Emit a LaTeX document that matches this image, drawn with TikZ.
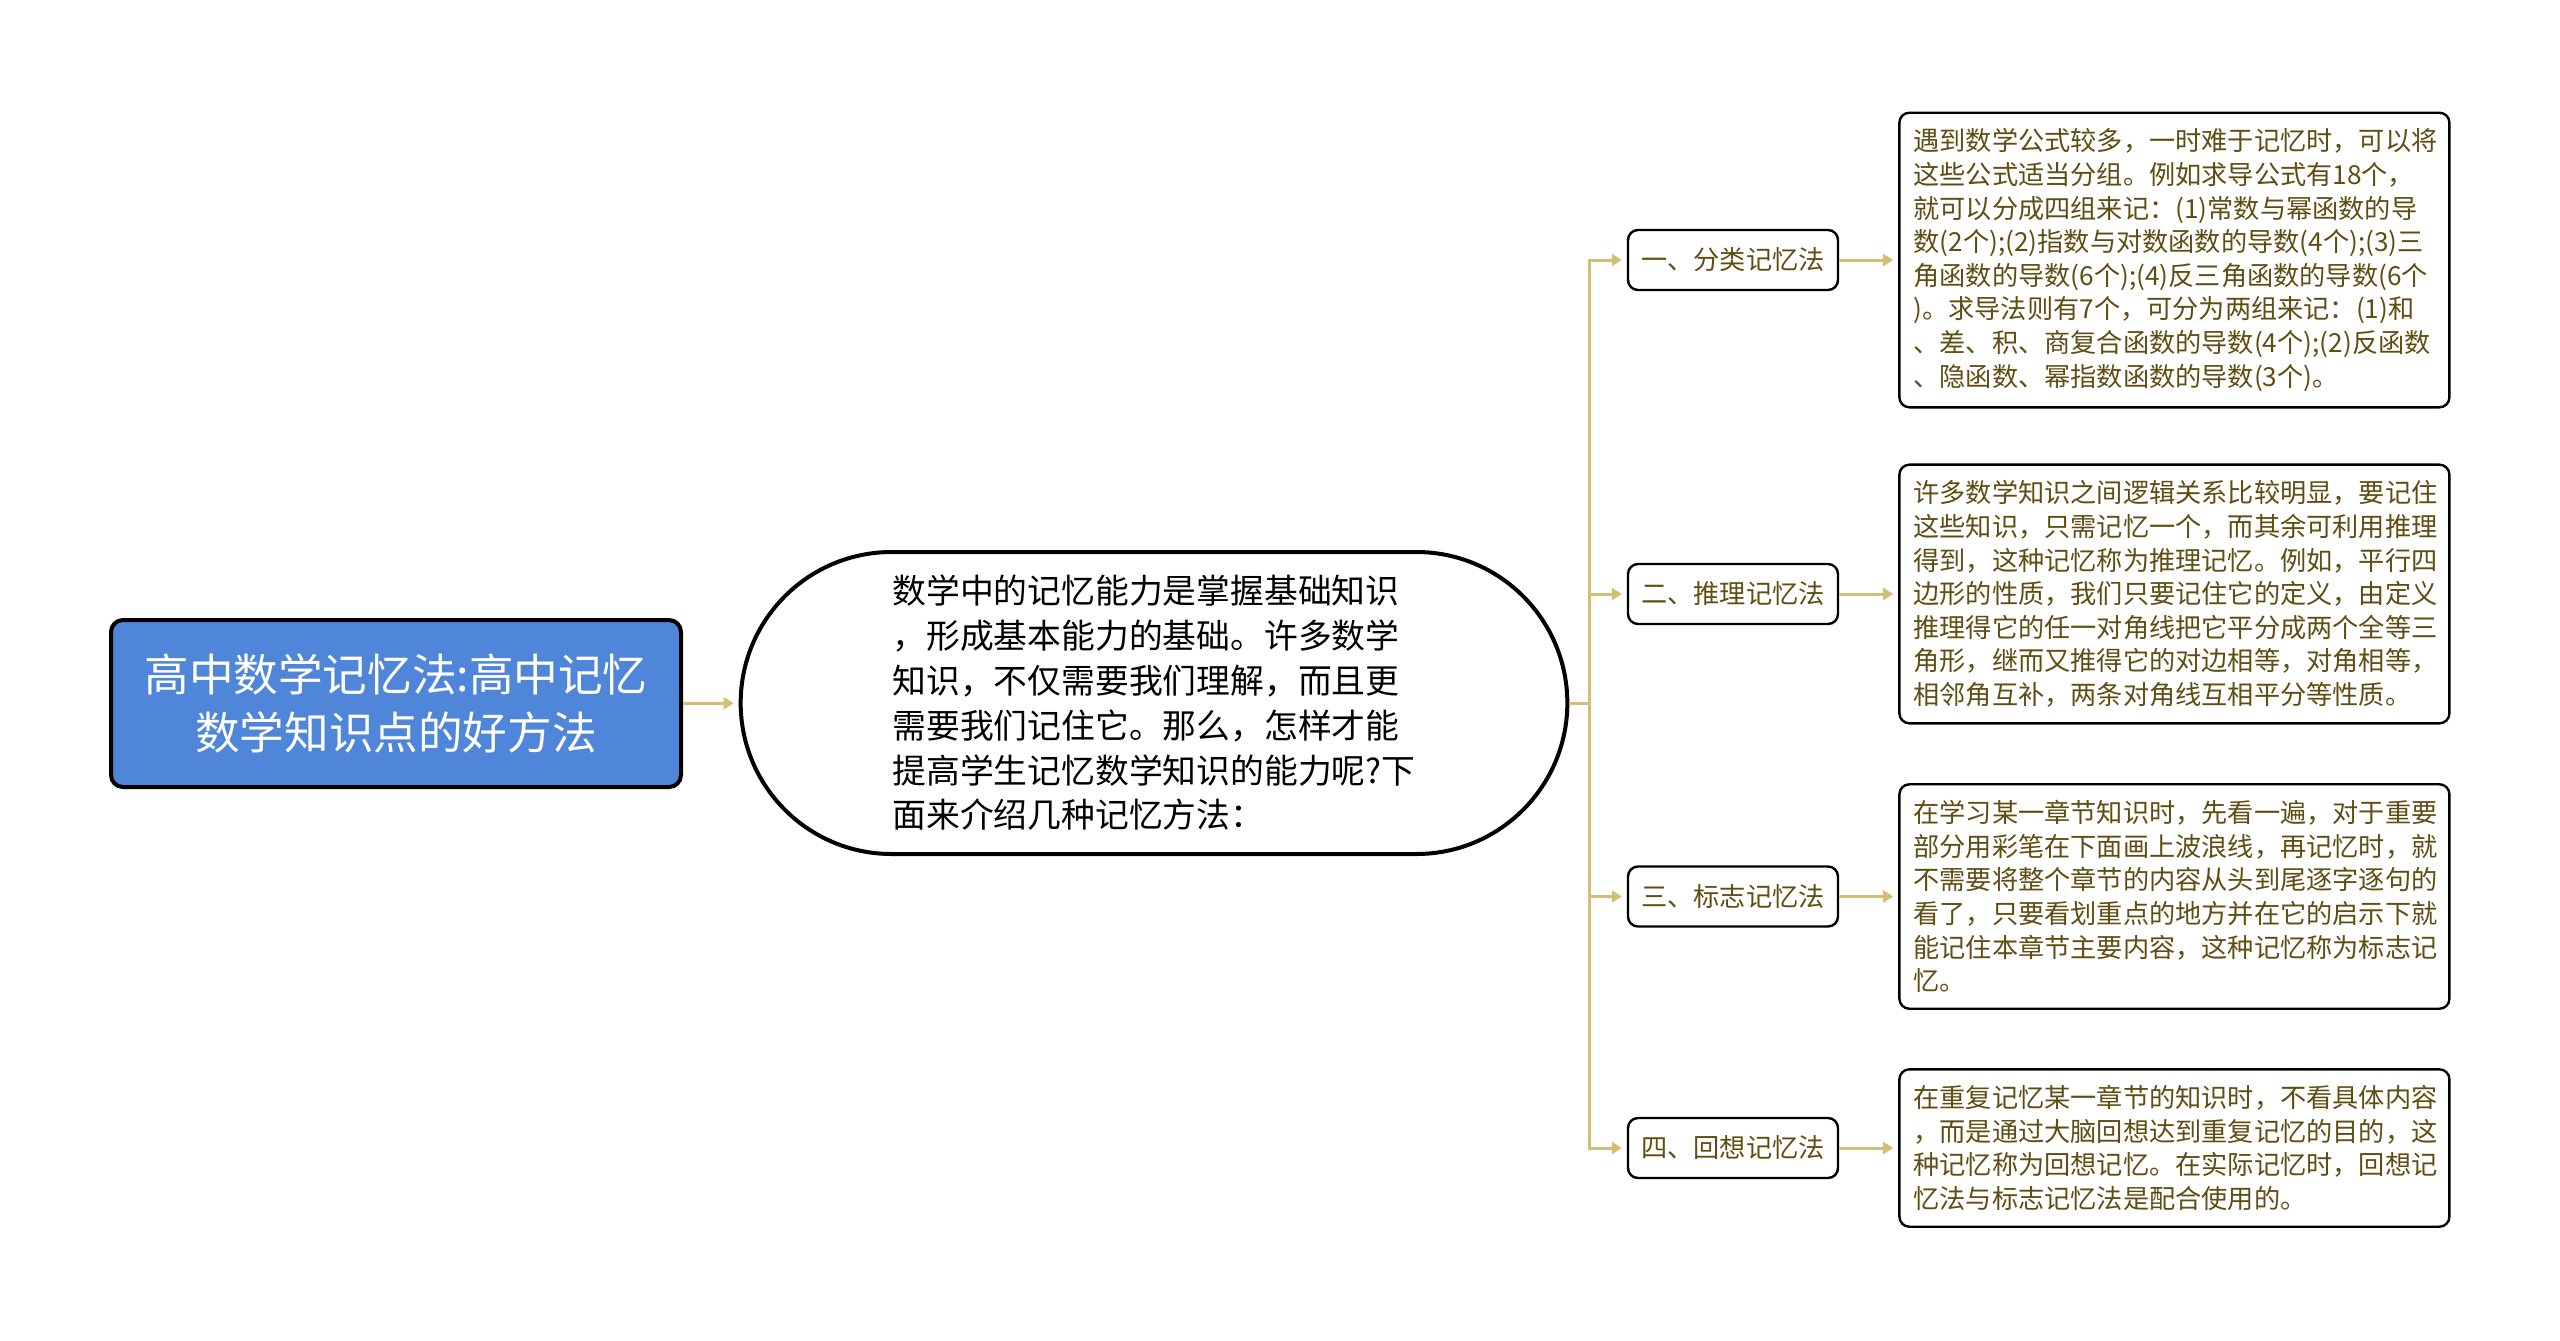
\documentclass[tikz,border=0pt]{standalone}
\usepackage{fontspec}
\setmainfont{Noto Sans CJK SC}
\usepackage{tikz}
\usetikzlibrary{arrows.meta,positioning,shapes.misc}
\definecolor{rootblue}{RGB}{79,134,217}
\definecolor{linktan}{RGB}{212,190,118}
\definecolor{leaftext}{RGB}{96,77,18}

\tikzset{
    link/.style={draw=linktan, line width=1.5pt},
    arrowlink/.style={link, -{Triangle[length=5pt,width=6pt]}, shorten >=2.5pt},
    rootbox/.style={draw=black, fill=rootblue, line width=2pt, rounded corners=6pt,
        minimum width=285pt, minimum height=83.5pt, align=center, text=white,
        font=\fontsize{22.3}{29.4}\selectfont},
    introbox/.style={rounded rectangle, draw=black, line width=2pt,
        minimum width=420pt, minimum height=151pt, align=left,
        font=\fontsize{16.9}{22.4}\selectfont},
    methodbox/.style={draw=black, line width=1.2pt, rounded corners=5pt,
        minimum width=105pt, minimum height=30pt, text=leaftext,
        font=\fontsize{13.1}{16.8}\selectfont},
    notebox/.style={draw=black, line width=1.2pt, rounded corners=5pt,
        text width=261pt, inner xsep=7pt, inner ysep=8pt, align=left, text=leaftext,
        font=\fontsize{13.1}{16.8}\selectfont}
}

\begin{document}
\begin{tikzpicture}[x=0.5pt, y=-0.5pt]
    \useasboundingbox (0,0) rectangle (2560,1340);

    % root and intro
    \node[rootbox] (root) at (396,703.5) {高中数学记忆法:高中记忆\\数学知识点的好方法};
    \node[introbox] (intro) at (1154,703) {数学中的记忆能力是掌握基础知识\\，形成基本能力的基础。许多数学\\知识，不仅需要我们理解，而且更\\需要我们记住它。那么，怎样才能\\提高学生记忆数学知识的能力呢?下\\面来介绍几种记忆方法：};
    \draw[arrowlink] (root) -- (intro);

    % methods
    \node[methodbox] (m1) at (1733,260) {一、分类记忆法};
    \node[methodbox] (m2) at (1733,594) {二、推理记忆法};
    \node[methodbox] (m3) at (1733,896.5) {三、标志记忆法};
    \node[methodbox] (m4) at (1733,1148) {四、回想记忆法};

    \coordinate (fork) at (1589,703);
    \draw[link] (intro.east) -- (fork);
    \foreach \i in {1,...,4}
        \draw[arrowlink] (fork) |- (m\i);

    % notes
    \node[notebox, right=29.5pt of m1] (n1) {遇到数学公式较多，一时难于记忆时，可以将\\这些公式适当分组。例如求导公式有18个，\\就可以分成四组来记：(1)常数与幂函数的导\\数(2个);(2)指数与对数函数的导数(4个);(3)三\\角函数的导数(6个);(4)反三角函数的导数(6个\\)。求导法则有7个，可分为两组来记：(1)和\\、差、积、商复合函数的导数(4个);(2)反函数\\、隐函数、幂指数函数的导数(3个)。};
    \node[notebox, right=29.5pt of m2] (n2) {许多数学知识之间逻辑关系比较明显，要记住\\这些知识，只需记忆一个，而其余可利用推理\\得到，这种记忆称为推理记忆。例如，平行四\\边形的性质，我们只要记住它的定义，由定义\\推理得它的任一对角线把它平分成两个全等三\\角形，继而又推得它的对边相等，对角相等，\\相邻角互补，两条对角线互相平分等性质。};
    \node[notebox, right=29.5pt of m3] (n3) {在学习某一章节知识时，先看一遍，对于重要\\部分用彩笔在下面画上波浪线，再记忆时，就\\不需要将整个章节的内容从头到尾逐字逐句的\\看了，只要看划重点的地方并在它的启示下就\\能记住本章节主要内容，这种记忆称为标志记\\忆。};
    \node[notebox, right=29.5pt of m4] (n4) {在重复记忆某一章节的知识时，不看具体内容\\，而是通过大脑回想达到重复记忆的目的，这\\种记忆称为回想记忆。在实际记忆时，回想记\\忆法与标志记忆法是配合使用的。};

    \foreach \i in {1,...,4}
        \draw[arrowlink] (m\i) -- (n\i);
\end{tikzpicture}
\end{document}
